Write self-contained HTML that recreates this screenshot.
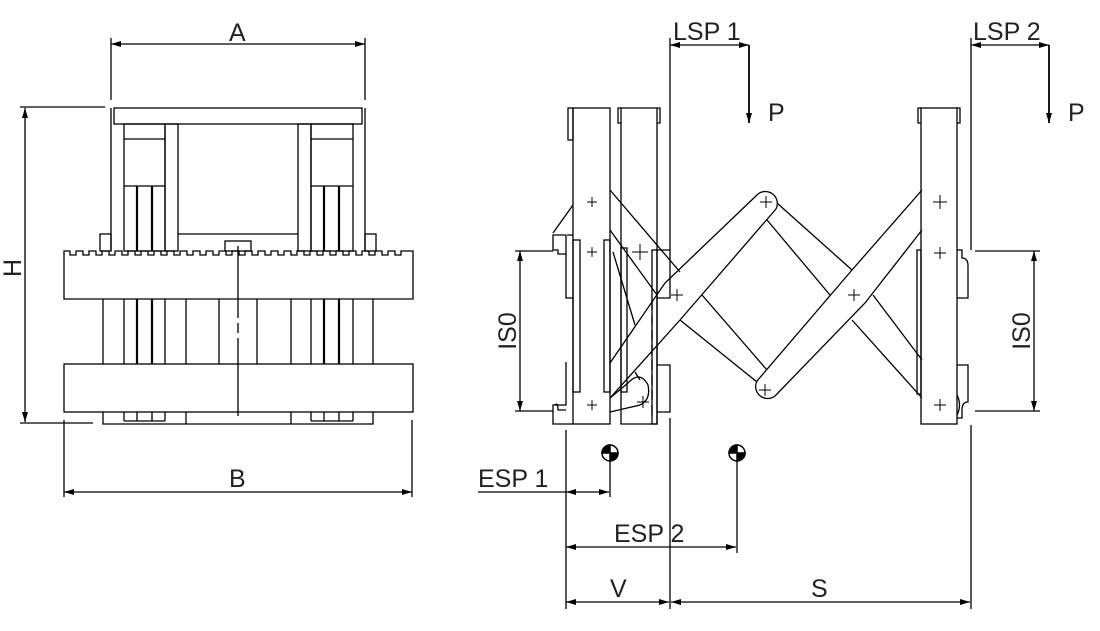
<!DOCTYPE html>
<html><head><meta charset="utf-8"><style>
html,body{margin:0;padding:0;background:#fff;}
svg{display:block}
text{font-family:"Liberation Sans",sans-serif;font-size:25px;fill:#222}
</style></head><body>
<svg width="1100" height="631" viewBox="0 0 1100 631" xmlns="http://www.w3.org/2000/svg">
<defs>
<marker id="ar" viewBox="0 0 10 6" refX="10" refY="3" markerWidth="12" markerHeight="6" orient="auto-start-reverse" markerUnits="userSpaceOnUse"><path d="M0,0 L10,3 L0,6 z" fill="#000"/></marker>
</defs>
<g fill="none" stroke="#000" stroke-width="1.3">
<!-- ===== LEFT VIEW ===== -->
<line x1="111" y1="38" x2="111" y2="100"/><line x1="365" y1="38" x2="365" y2="100"/>
<line x1="111" y1="44" x2="365" y2="44" marker-start="url(#ar)" marker-end="url(#ar)"/>
<line x1="20" y1="107" x2="105" y2="107"/><line x1="20" y1="423" x2="93" y2="423"/>
<line x1="25" y1="108" x2="25" y2="422" marker-start="url(#ar)" marker-end="url(#ar)"/>
<line x1="64" y1="420" x2="64" y2="497"/><line x1="412" y1="420" x2="412" y2="497"/>
<line x1="64" y1="492" x2="412" y2="492" marker-start="url(#ar)" marker-end="url(#ar)"/>
<rect x="114" y="108" width="248" height="16"/>
<line x1="111" y1="108" x2="111" y2="251"/><line x1="365" y1="108" x2="365" y2="251"/>
<rect x="124" y="124" width="41" height="127"/><rect x="165" y="124" width="13" height="127"/>
<rect x="311" y="124" width="42" height="127"/><rect x="298" y="124" width="13" height="127"/>
<line x1="124" y1="139" x2="165" y2="139"/><line x1="311" y1="139" x2="353" y2="139"/>
<line x1="124" y1="186" x2="165" y2="186"/><line x1="311" y1="186" x2="353" y2="186"/>
<line x1="178" y1="234" x2="298" y2="234"/>
<rect x="100" y="234" width="11" height="17"/><rect x="365" y="234" width="11" height="17"/>
<rect x="225" y="241" width="26" height="10"/>
<!-- upper bar with notches -->
<path d="M64,251 H70 v4 h6 v-4 H83 v4 h6 v-4 H96 v4 h6 v-4 H109 v4 h6 v-4 H122 v4 h6 v-4 H135 v4 h6 v-4 H148 v4 h6 v-4 H161 v4 h6 v-4 H174 v4 h6 v-4 H187 v4 h6 v-4 H200 v4 h6 v-4 H213 v4 h6 v-4 H226 v4 h6 v-4 H239 v4 h6 v-4 H252 v4 h6 v-4 H265 v4 h6 v-4 H278 v4 h6 v-4 H291 v4 h6 v-4 H304 v4 h6 v-4 H317 v4 h6 v-4 H330 v4 h6 v-4 H343 v4 h6 v-4 H356 v4 h6 v-4 H369 v4 h6 v-4 H382 v4 h6 v-4 H395 v4 h6 v-4 H413 V299 H64 Z"/>
<rect x="64" y="364" width="349" height="48"/>
<g>
<line x1="103" y1="299" x2="103" y2="364"/><line x1="124" y1="299" x2="124" y2="364"/>
<line x1="165" y1="299" x2="165" y2="364"/><line x1="186" y1="299" x2="186" y2="364"/>
<line x1="219" y1="299" x2="219" y2="364"/><line x1="257" y1="299" x2="257" y2="364"/>
<line x1="291" y1="299" x2="291" y2="364"/><line x1="311" y1="299" x2="311" y2="364"/>
<line x1="353" y1="299" x2="353" y2="364"/><line x1="373" y1="299" x2="373" y2="364"/>
</g>
<g stroke-width="2.2">
<line x1="137" y1="186" x2="137" y2="251"/><line x1="152" y1="186" x2="152" y2="251"/>
<line x1="324" y1="186" x2="324" y2="251"/><line x1="339" y1="186" x2="339" y2="251"/>
<line x1="137" y1="299" x2="137" y2="364"/><line x1="152" y1="299" x2="152" y2="364"/>
<line x1="324" y1="299" x2="324" y2="364"/><line x1="339" y1="299" x2="339" y2="364"/>
</g>
<path d="M103,412 L103,424 L373,424 L373,412"/>
<line x1="124" y1="412" x2="124" y2="421"/><line x1="165" y1="412" x2="165" y2="421"/><line x1="186" y1="412" x2="186" y2="424"/>
<line x1="291" y1="412" x2="291" y2="424"/><line x1="311" y1="412" x2="311" y2="421"/><line x1="353" y1="412" x2="353" y2="421"/>
<line x1="124" y1="421" x2="165" y2="421"/><line x1="311" y1="421" x2="353" y2="421"/>
<line x1="137" y1="412" x2="137" y2="421"/><line x1="152" y1="412" x2="152" y2="421"/>
<line x1="324" y1="412" x2="324" y2="421"/><line x1="339" y1="412" x2="339" y2="421"/>
<path d="M238,246 V318 M238,323 V333 M238,338 V416"/>

<!-- ===== RIGHT VIEW ===== -->
<path d="M573,108 V140 H568 V108 Z"/>
<rect x="573" y="108" width="37" height="316"/>
<path d="M621,108 V424 H657 V108 Z"/>
<path d="M621,108 H618 V123 H621 M657,108 H660 V123 H657"/>
<path d="M566,235 H553 V250 H558 V254 H566 M566,235 V298 H573"/>
<path d="M566,362 V405 H553 V424 H573"/>
<path d="M555,405 Q558,402 558,410 H566"/>
<rect x="573" y="240" width="7" height="152"/>
<rect x="604" y="240" width="6" height="152"/>
<rect x="621" y="248" width="6" height="144"/>
<rect x="652" y="250" width="5" height="174"/>
<path d="M657,250 H670 V298 H657 M657,365 H670 V412 H657"/>
<path d="M573,205 L553,233 M567,235 H573"/>
<rect x="921" y="108" width="36" height="316"/>
<path d="M921,108 H918 V123 H921 M957,108 H960 V123 H957"/>
<rect x="917" y="250" width="4" height="144"/>
<path d="M957,250 H962 V258 Q968,258 968,266 V298 H957"/>
<path d="M957,365 H968 V402 Q962,402 962,410 V418 H957"/>
<path d="M957,395 Q962,405 957,415"/>
<!-- scissor links -->
<line x1="610" y1="190" x2="680" y2="272"/>
<line x1="610" y1="230" x2="657" y2="295"/>
<path d="M758,194 L665,283 L610,363"/>
<path d="M776,209 L680,320 L610,398"/>
<path d="M758,194 A12,12 0 0 1 776,209"/>
<line x1="777" y1="203" x2="852" y2="270"/>
<line x1="767" y1="220" x2="830" y2="295"/>
<line x1="702" y1="295" x2="767" y2="370"/>
<line x1="680" y1="320" x2="757" y2="382"/>
<path d="M757,381 L852,270 L922,190"/>
<path d="M775,396 L865,303 L922,230"/>
<path d="M757,381 A12,12 0 0 0 775,396"/>
<line x1="873" y1="295" x2="922" y2="360"/>
<line x1="852" y1="320" x2="922" y2="398"/>
<path d="M610,412 L640,405 Q651,400 648,385 Q640,370 628,383 L610,398"/>
<line x1="613" y1="252" x2="635" y2="325"/><line x1="635" y1="372" x2="640" y2="380"/>
<path d="M652,300 V415" stroke-dasharray="10,5"/>
<g stroke-width="1">
<path d="M587,202 h10 M592,197 v10"/><path d="M587,252 h10 M592,247 v10"/><path d="M587,405 h10 M592,400 v10"/>
<path d="M632,252 h16 M640,244 v16"/><path d="M671,295 h12 M677,289 v12"/>
<path d="M637,402 h12 M643,396 v12"/>
<path d="M760,202 h12 M766,196 v12"/><path d="M759,390 h12 M765,384 v12"/>
<path d="M848,295 h12 M854,289 v12"/>
<path d="M933,202 h14 M940,195 v14"/><path d="M934,253 h12 M940,247 v12"/><path d="M934,405 h12 M940,399 v12"/>
</g>
<line x1="670" y1="38" x2="670" y2="250"/>
<line x1="670" y1="418" x2="670" y2="609"/>
<line x1="971" y1="38" x2="971" y2="250"/>
<line x1="971" y1="425" x2="971" y2="609"/>
<line x1="670" y1="45" x2="749" y2="45" marker-start="url(#ar)" marker-end="url(#ar)"/>
<line x1="749" y1="45" x2="749" y2="123" stroke-width="1.8" marker-end="url(#ar)"/>
<line x1="971" y1="45" x2="1049" y2="45" marker-start="url(#ar)" marker-end="url(#ar)"/>
<line x1="1049" y1="45" x2="1049" y2="123" stroke-width="1.8" marker-end="url(#ar)"/>
<line x1="515" y1="251" x2="553" y2="251"/><line x1="515" y1="411" x2="553" y2="411"/>
<line x1="520" y1="251" x2="520" y2="411" marker-start="url(#ar)" marker-end="url(#ar)"/>
<line x1="975" y1="251" x2="1040" y2="251"/><line x1="975" y1="411" x2="1040" y2="411"/>
<line x1="1034" y1="251" x2="1034" y2="411" marker-start="url(#ar)" marker-end="url(#ar)"/>
<line x1="566" y1="430" x2="566" y2="609"/>
<line x1="478" y1="492" x2="566" y2="492"/>
<line x1="566" y1="492" x2="609" y2="492" marker-start="url(#ar)" marker-end="url(#ar)"/>
<line x1="610" y1="461" x2="610" y2="497"/>
<line x1="737" y1="461" x2="737" y2="553"/>
<line x1="566" y1="547" x2="736" y2="547" marker-start="url(#ar)" marker-end="url(#ar)"/>
<line x1="566" y1="602" x2="669" y2="602" marker-start="url(#ar)" marker-end="url(#ar)"/>
<line x1="671" y1="602" x2="970" y2="602" marker-start="url(#ar)" marker-end="url(#ar)"/>
</g>
<g stroke="#000" stroke-width="1.5">
<circle cx="610" cy="453" r="8" fill="#fff"/><path d="M610,453 V445 A8,8 0 0 0 602,453 Z M610,453 V461 A8,8 0 0 0 618,453 Z" fill="#000"/>
<circle cx="737" cy="453" r="8" fill="#fff"/><path d="M737,453 V445 A8,8 0 0 0 729,453 Z M737,453 V461 A8,8 0 0 0 745,453 Z" fill="#000"/>
</g>
<text x="229" y="41">A</text>
<text x="229" y="487">B</text>
<text transform="translate(21,268) rotate(-90)" text-anchor="middle">H</text>
<text x="673" y="40">LSP 1</text>
<text x="973" y="40">LSP 2</text>
<text x="768" y="121">P</text>
<text x="1068" y="121">P</text>
<text transform="translate(516,331) rotate(-90)" text-anchor="middle">IS0</text>
<text transform="translate(1030,331) rotate(-90)" text-anchor="middle">IS0</text>
<text x="478" y="487">ESP 1</text>
<text x="614" y="542">ESP 2</text>
<text x="610" y="597">V</text>
<text x="811" y="597">S</text>
</svg>
</body></html>
